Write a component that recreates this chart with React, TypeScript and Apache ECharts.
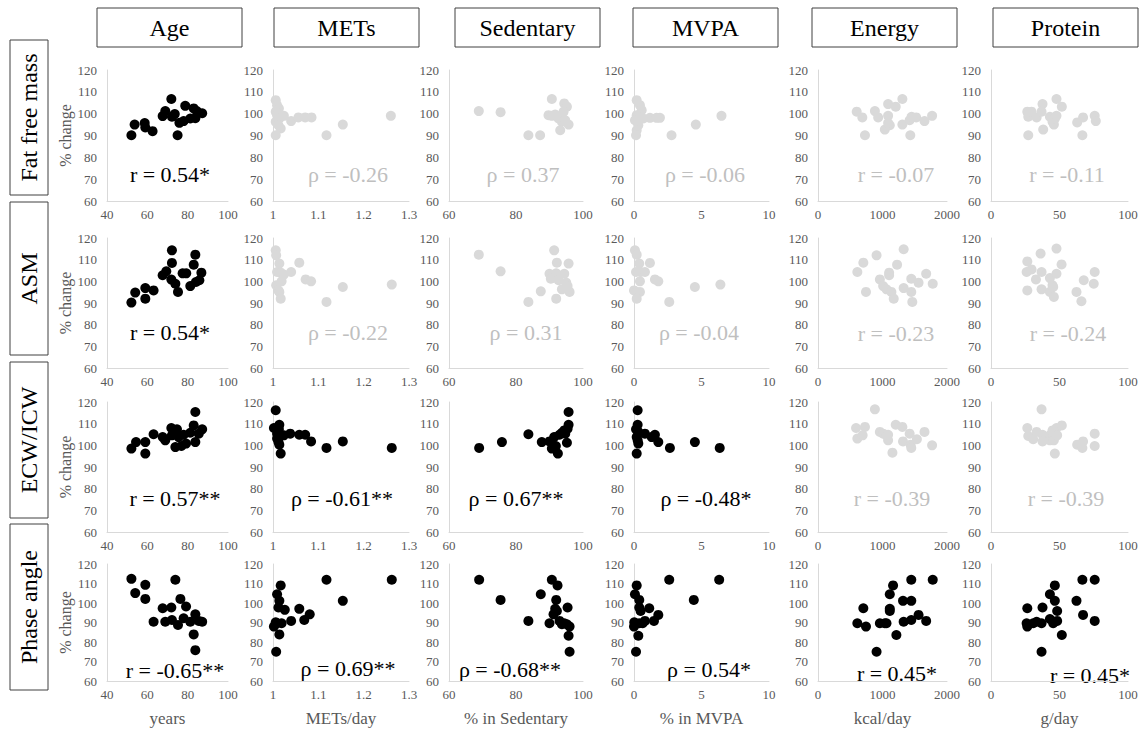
import React, { useEffect, useRef } from "react";
import * as echarts from "echarts";

const FONT = '"Liberation Serif", "Times New Roman", serif';

const columnTitles = ["Age", "METs", "Sedentary", "MVPA", "Energy", "Protein"];
const rowTitles = ["Fat free mass", "ASM", "ECW/ICW", "Phase angle"];
const xAxisTitles = ["years", "METs/day", "% in Sedentary", "% in MVPA", "kcal/day", "g/day"];
const xMin = [40, 1, 60, 0, 0, 0];
const xMax = [100, 1.3, 100, 10, 2000, 100];
const xStep = [20, 0.1, 20, 5, 1000, 50];
const yTicks = [60, 70, 80, 90, 100, 110, 120];

// correlation labels [row][col]
const corrLabels = [
  ["r = 0.54*", "ρ = -0.26", "ρ = 0.37", "ρ = -0.06", "r = -0.07", "r = -0.11"],
  ["r = 0.54*", "ρ = -0.22", "ρ = 0.31", "ρ = -0.04", "r = -0.23", "r = -0.24"],
  ["r = 0.57**", "ρ = -0.61**", "ρ = 0.67**", "ρ = -0.48*", "r = -0.39", "r = -0.39"],
  ["r = -0.65**", "ρ = 0.69**", "ρ = -0.68**", "ρ = 0.54*", "r = 0.45*", "r = 0.45*"],
];
const significant = [
  [true, false, false, false, false, false],
  [true, false, false, false, false, false],
  [true, true, true, true, false, false],
  [true, true, true, true, true, true],
];

// ---- Fat free mass ----
const ffmAge = [[52.1,90.1],[53.7,95.0],[58.7,95.7],[59.0,93.7],[62.6,92.0],[67.6,98.9],[68.9,101.2],[71.9,106.7],[72.2,98.6],[73.6,99.8],[75.0,90.1],[75.9,95.8],[78.0,96.6],[78.8,103.6],[81.3,97.8],[83.0,102.4],[83.8,97.9],[84.5,101.2],[87.2,100.2]];
const ffmMets = [[1.006,106.2],[1.009,103.9],[1.013,102.4],[1.006,100.9],[1.009,99.3],[1.014,97.8],[1.006,96.3],[1.012,94.7],[1.017,93.2],[1.006,90.1],[1.024,99.0],[1.040,96.6],[1.056,98.3],[1.071,98.3],[1.085,98.3],[1.118,90.1],[1.154,95.0],[1.260,99.0]];
const ffmSed = [[68.9,101.2],[75.4,100.7],[83.7,90.1],[87.2,90.1],[90.7,106.7],[89.7,99.3],[90.7,99.0],[91.7,99.6],[92.7,97.8],[93.7,96.3],[94.4,104.7],[95.2,103.2],[94.2,100.9],[93.2,92.4],[95.7,95.0],[94.7,97.0]];
const ffmMvpa = [[0.2,106.2],[0.44,103.9],[0.57,101.6],[0.2,99.3],[0.07,97.0],[0.32,94.7],[0.2,92.4],[0.15,90.1],[0.69,97.8],[1.18,98.1],[1.67,98.1],[1.92,98.1],[2.78,90.1],[4.58,95.0],[6.48,99.0]];
const ffmEnergy = [[600,100.9],[687,98.3],[728,90.1],[882,101.2],[933,98.3],[1087,99.0],[1087,104.4],[1205,103.2],[1308,106.7],[1036,92.7],[1113,94.7],[1087,95.7],[1308,95.0],[1420,97.0],[1431,90.1],[1451,98.6],[1523,98.3],[1651,96.6],[1769,99.0]];
const ffmProtein = [[26.5,100.9],[27.2,98.6],[29.6,100.9],[33.3,98.3],[27.2,90.1],[37.6,104.4],[36.9,100.9],[38.1,92.7],[43.0,98.6],[44.9,96.3],[45.9,95.0],[46.6,97.7],[47.8,106.7],[47.8,99.0],[51.7,103.2],[62.9,96.0],[67.2,98.3],[66.7,90.1],[75.7,99.0],[76.5,96.6]];

// ---- ASM ----
const asmAge = [[52.1,90.2],[54.0,94.8],[59.0,96.9],[59.0,92.0],[63.1,95.8],[67.6,102.8],[69.4,104.6],[72.2,114.3],[72.2,108.5],[71.9,100.8],[73.9,98.9],[75.2,95.1],[77.5,103.7],[79.3,103.7],[81.3,97.8],[83.0,107.7],[83.8,112.3],[84.1,99.7],[85.8,100.5],[86.8,104.0]];
const asmMets = [[1.006,114.3],[1.007,112.0],[1.014,108.2],[1.009,104.3],[1.017,104.0],[1.024,103.1],[1.019,100.0],[1.007,98.2],[1.012,95.8],[1.014,95.1],[1.017,92.0],[1.040,104.3],[1.058,108.6],[1.072,100.9],[1.084,100.0],[1.118,90.5],[1.154,97.4],[1.262,98.5]];
const asmSed = [[68.9,112.3],[75.4,104.6],[83.7,90.5],[87.4,95.4],[91.4,114.3],[92.2,108.6],[95.7,108.2],[90.0,103.5],[90.4,101.2],[92.0,103.7],[92.0,92.0],[92.7,100.5],[93.7,96.3],[94.4,103.5],[95.0,99.4],[95.2,96.6],[96.0,95.1],[95.4,97.8]];
const asmMvpa = [[0.07,114.3],[0.2,112.3],[0.39,108.2],[0.15,104.3],[0.49,104.3],[0.81,104.3],[0.44,100.0],[0,95.8],[0.2,95.1],[0.44,95.1],[0.2,92.0],[1.18,108.5],[1.55,100.9],[1.8,100.0],[2.61,90.5],[4.51,97.4],[6.4,98.5]];
const asmEnergy = [[610,104.3],[703,108.6],[744,95.1],[908,112.0],[959,100.9],[1010,97.8],[1062,96.3],[1103,104.0],[1103,102.8],[1138,95.1],[1174,92.0],[1226,107.7],[1328,114.8],[1328,96.9],[1446,101.2],[1446,95.1],[1462,90.5],[1559,99.4],[1677,103.5],[1779,98.9]];
const asmProtein = [[26.5,109.2],[26.0,104.3],[29.6,105.5],[26.5,95.8],[32.8,100.9],[36.2,112.8],[36.9,104.3],[36.9,96.3],[43.0,101.5],[43.0,95.1],[44.9,98.2],[45.4,97.4],[45.9,92.8],[47.8,115.1],[47.8,103.5],[51.5,107.8],[62.4,95.1],[67.7,100.5],[66.0,90.8],[75.7,104.3],[75.0,98.9]];

// ---- ECW/ICW ----
const ecwAge = [[52.1,98.5],[54.4,101.5],[59.0,101.5],[59.0,96.2],[63.1,105.1],[67.6,103.8],[68.9,102.3],[71.9,108.0],[72.2,104.6],[73.9,99.2],[74.7,107.4],[75.5,103.8],[76.9,99.7],[78.0,104.9],[79.2,100.8],[81.3,105.8],[83.0,109.2],[83.8,115.4],[83.8,101.5],[85.5,105.4],[87.2,107.4]];
const ecwMets = [[1.006,116.2],[1.002,108.0],[1.009,105.4],[1.014,109.5],[1.013,107.4],[1.009,103.1],[1.012,101.5],[1.014,100.3],[1.017,96.2],[1.024,104.6],[1.017,104.6],[1.038,105.4],[1.058,104.9],[1.071,104.9],[1.084,101.8],[1.118,98.8],[1.154,101.8],[1.262,98.8]];
const ecwSed = [[69.0,98.8],[75.8,101.5],[83.7,105.1],[87.7,101.5],[90.0,101.8],[90.7,98.5],[91.4,103.8],[91.9,99.7],[92.5,96.2],[93.0,104.9],[93.7,105.8],[94.4,106.9],[95.2,101.2],[95.4,107.7],[95.7,109.5],[95.7,115.4],[94.7,105.4]];
const ecwMvpa = [[0.27,116.2],[0.27,109.5],[0.15,107.4],[0.32,106.2],[0.2,103.8],[0.27,102.3],[0.32,100.8],[0.2,96.2],[0.81,105.4],[1.31,103.8],[1.55,104.9],[1.8,101.5],[2.66,98.8],[4.51,101.5],[6.35,98.8]];
const ecwEnergy = [[590,108.0],[610,103.1],[692,104.6],[728,108.5],[882,116.6],[959,106.2],[1010,105.4],[1062,104.6],[1087,102.3],[1087,104.9],[1154,96.6],[1205,109.5],[1308,108.5],[1318,101.8],[1421,105.4],[1436,100.3],[1446,98.8],[1533,102.8],[1651,106.2],[1769,100.0]];
const ecwProtein = [[26.5,108.0],[27.2,104.3],[30.8,102.8],[33.3,106.2],[36.9,116.6],[37.6,104.9],[37.6,101.8],[43.0,102.3],[43.4,104.9],[44.9,106.9],[45.4,103.8],[45.9,102.3],[46.6,96.2],[47.8,108.0],[48.3,104.6],[51.7,109.2],[62.9,100.3],[66.7,98.8],[67.2,101.8],[75.7,105.4],[75.7,99.7]];

// ---- Phase angle ----
const paAge = [[52.1,112.4],[54.0,105.1],[59.0,109.3],[59.0,102.1],[63.1,90.4],[67.6,97.3],[68.9,90.4],[71.9,97.7],[72.2,91.3],[73.9,111.9],[75.2,88.7],[76.4,102.1],[78.0,92.2],[79.2,98.2],[81.3,90.4],[83.0,83.9],[83.8,94.2],[83.8,75.8],[85.5,90.8],[87.2,90.4]];
const paMets = [[1.002,87.9],[1.006,90.1],[1.007,75.0],[1.009,104.5],[1.012,97.7],[1.014,101.1],[1.014,83.9],[1.017,109.0],[1.019,89.6],[1.009,89.6],[1.026,96.5],[1.040,90.8],[1.058,97.0],[1.069,91.3],[1.081,94.2],[1.118,111.9],[1.154,101.1],[1.262,111.9]];
const paSed = [[69.0,111.9],[75.4,101.6],[83.7,90.8],[87.4,104.5],[90.0,89.6],[90.7,111.9],[91.2,94.2],[91.7,97.0],[92.0,101.6],[92.4,109.0],[92.2,95.9],[93.0,90.8],[93.7,89.1],[94.4,89.6],[95.4,97.7],[95.2,89.1],[96.0,87.9],[95.7,83.2],[96.0,75.0]];
const paMvpa = [[0,87.9],[0.02,90.1],[0.15,75.0],[0.07,104.5],[0.2,109.0],[0.32,83.2],[0.39,101.6],[0.39,97.7],[0.49,95.9],[0.39,89.6],[0.64,89.6],[0.81,90.8],[1.13,97.3],[1.48,90.8],[1.8,93.9],[2.61,111.9],[4.43,101.6],[6.31,111.9]];
const paEnergy = [[610,89.6],[703,97.3],[744,87.9],[908,75.0],[959,89.6],[1036,89.6],[1062,89.6],[1113,104.5],[1113,97.0],[1113,95.9],[1164,109.0],[1215,83.6],[1318,101.1],[1328,90.4],[1446,111.9],[1446,101.1],[1446,91.3],[1559,93.9],[1677,90.8],[1779,111.9]];
const paProtein = [[26.5,97.3],[26.0,89.6],[26.5,87.9],[30.8,89.6],[33.3,90.4],[37.6,97.7],[36.9,89.6],[36.9,75.0],[43.0,104.5],[43.0,91.8],[45.4,89.6],[46.6,109.0],[46.6,101.1],[48.3,95.9],[48.3,90.8],[51.7,83.6],[62.4,101.1],[66.7,111.9],[67.2,93.9],[75.7,111.9],[75.7,90.8]];

const panelData = [
  [ffmAge, ffmMets, ffmSed, ffmMvpa, ffmEnergy, ffmProtein],
  [asmAge, asmMets, asmSed, asmMvpa, asmEnergy, asmProtein],
  [ecwAge, ecwMets, ecwSed, ecwMvpa, ecwEnergy, ecwProtein],
  [paAge, paMets, paSed, paMvpa, paEnergy, paProtein],
];

// layout (pixels)
const colLeft = [107, 273, 449, 634, 818, 991];
const colRight = [228, 409, 583, 769, 947, 1128];
const rowTop = [70, 238, 402, 564];
const rowBottom = [201, 368, 532, 681];
const headerLeft = [97, 274, 455, 633, 812, 993];
const headerWidth = 145;
const rowBoxTop = [40, 202, 362, 524];
const rowBoxBottom = [195, 355, 518, 690];
const corrPos = [
  [[170, 174], [348, 174], [523, 174], [705, 174], [896, 174], [1067, 174]],
  [[170, 332], [348, 332], [526, 332], [699, 332], [896, 333], [1068, 333]],
  [[175, 498], [342, 498], [516, 498], [706, 498], [892, 498], [1066, 498]],
  [[175, 670], [348, 668], [510, 669], [709, 669], [897, 673], [1090, 675]],
];

export default function App() {
  const ref = useRef<HTMLDivElement>(null);
  useEffect(() => {
    if (!ref.current) return;
    const chart = echarts.init(ref.current, undefined, { renderer: "svg" });
    const grids: any[] = [];
    const xAxes: any[] = [];
    const yAxes: any[] = [];
    const series: any[] = [];
    const graphic: any[] = [];
    for (let r = 0; r < 4; r++) {
      for (let c = 0; c < 6; c++) {
        const i = r * 6 + c;
        grids.push({
          left: colLeft[c],
          top: rowTop[r],
          width: colRight[c] - colLeft[c],
          height: rowBottom[r] - rowTop[r],
        });
        xAxes.push({
          type: "value",
          gridIndex: i,
          min: xMin[c],
          max: xMax[c],
          interval: xStep[c],
          axisLine: { show: true, onZero: false, lineStyle: { color: "#d9d9d9", width: 1 } },
          axisTick: { show: false },
          splitLine: { show: false },
          axisLabel: {
            color: "#595959",
            fontFamily: FONT,
            fontSize: 13,
            margin: 7,
            formatter: (v: number) => String(Math.round(v * 100) / 100),
          },
        });
        yAxes.push({
          type: "value",
          gridIndex: i,
          min: yTicks[0],
          max: yTicks[yTicks.length - 1],
          interval: 10,
          axisLine: { show: true, onZero: false, lineStyle: { color: "#d9d9d9", width: 1 } },
          axisTick: { show: false },
          splitLine: { show: false },
          axisLabel: { color: "#595959", fontFamily: FONT, fontSize: 13, margin: 10 },
        });
        const sig = significant[r][c];
        series.push({
          type: "scatter",
          xAxisIndex: i,
          yAxisIndex: i,
          data: panelData[r][c],
          symbolSize: 10,
          itemStyle: { color: sig ? "#000000" : "#d9d9d9", opacity: 1 },
          silent: true,
        });
        graphic.push({
          type: "text",
          x: corrPos[r][c][0],
          y: corrPos[r][c][1],
          style: {
            text: corrLabels[r][c],
            fill: sig ? "#000000" : "#bfbfbf",
            font: `22px ${FONT}`,
            textAlign: "center",
            textVerticalAlign: "middle",
          },
        });
      }
      // row label box
      graphic.push({
        type: "rect",
        shape: { x: 10, y: rowBoxTop[r], width: 38, height: rowBoxBottom[r] - rowBoxTop[r] },
        style: { fill: "#ffffff", stroke: "#404040", lineWidth: 1 },
      });
      graphic.push({
        type: "text",
        x: 29,
        y: (rowBoxTop[r] + rowBoxBottom[r]) / 2,
        rotation: Math.PI / 2,
        style: {
          text: rowTitles[r],
          fill: "#000000",
          font: `24px ${FONT}`,
          textAlign: "center",
          textVerticalAlign: "middle",
        },
      });
      // % change
      graphic.push({
        type: "text",
        x: 65,
        y: (rowTop[r] + rowBottom[r]) / 2,
        rotation: Math.PI / 2,
        style: {
          text: "% change",
          fill: "#595959",
          font: `16px ${FONT}`,
          textAlign: "center",
          textVerticalAlign: "middle",
        },
      });
    }
    for (let c = 0; c < 6; c++) {
      graphic.push({
        type: "rect",
        shape: { x: headerLeft[c], y: 8, width: headerWidth, height: 39 },
        style: { fill: "#ffffff", stroke: "#404040", lineWidth: 1 },
      });
      graphic.push({
        type: "text",
        x: headerLeft[c] + headerWidth / 2,
        y: 28,
        style: {
          text: columnTitles[c],
          fill: "#000000",
          font: `24px ${FONT}`,
          textAlign: "center",
          textVerticalAlign: "middle",
        },
      });
      graphic.push({
        type: "text",
        x: (colLeft[c] + colRight[c]) / 2,
        y: 718,
        style: {
          text: xAxisTitles[c],
          fill: "#595959",
          font: `17px ${FONT}`,
          textAlign: "center",
          textVerticalAlign: "middle",
        },
      });
    }
    chart.setOption({
      animation: false,
      backgroundColor: "#ffffff",
      grid: grids,
      xAxis: xAxes,
      yAxis: yAxes,
      series,
      graphic,
    });
    return () => chart.dispose();
  }, []);
  return (
    <div
      ref={ref}
      style={{ position: "fixed", left: 0, top: 0, width: 1142, height: 732 }}
    />
  );
}
